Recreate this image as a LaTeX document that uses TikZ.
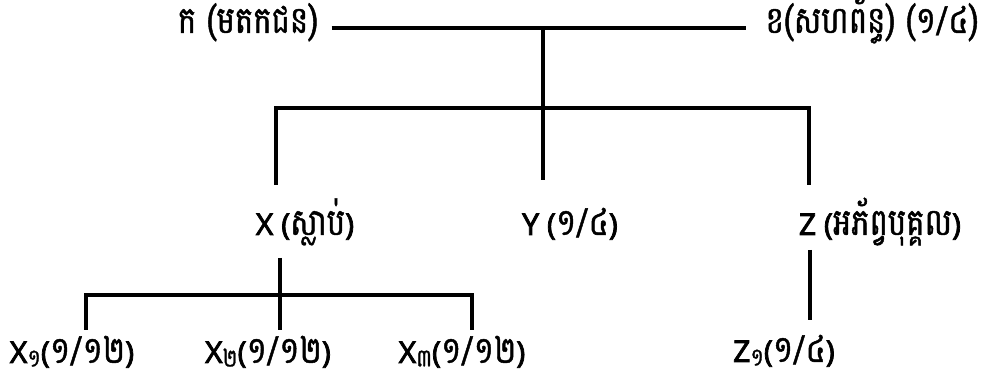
\documentclass[tikz,border=0pt]{standalone}
\usepackage{fontspec}
\setmainfont[FakeBold=2.5]{Noto Sans}
\newfontfamily\kh[Script=Khmer,Scale=1.25,FakeStretch=0.82,FakeBold=1.2]{Battambang}
\newcommand{\khsub}[1]{\raisebox{-0.12em}{\fontsize{10}{10}\selectfont\kh #1}}
\tikzset{
  lbl/.style={anchor=base, inner sep=0pt, font=\fontsize{15}{18}\selectfont},
  link/.style={draw=black, line width=1.7pt},
}
\begin{document}
\begin{tikzpicture}[x=0.5pt,y=-0.5pt]
  \useasboundingbox (0,0) rectangle (985,383);
  % parents
  \node[lbl] (ka) at (248,33) {\kh ក (មតកជន)};
  \node[lbl] (kha) at (872,33) {\kh ខ(សហព័ន្ធ) (១/៤)};
  \coordinate (wed) at (543,28);
  \draw[link] ([xshift=6.5pt]ka.east |- wed) -- ([xshift=-9.5pt]kha.west |- wed);
  % children
  \node[lbl] (x) at (305,235) {X ({\kh ស្លាប់})};
  \node[lbl] (y) at (570,235) {Y ({\kh ១/៤})};
  \node[lbl] (z) at (880,235) {Z ({\kh អភ័ព្វបុគ្គល})};
  \coordinate (bar) at (543,108);
  \coordinate (xl) at (276,185);
  \coordinate (yl) at (543,180);
  \coordinate (zl) at (809,185);
  \draw[link] (wed) -- (bar) -- (yl);
  \draw[link] (xl) -- (xl |- bar) -- (zl |- bar) -- (zl);
  % grandchildren
  \node[lbl] (x1) at (72,363) {X\khsub{១}({\kh ១/១២})};
  \node[lbl] (x2) at (268,363) {X\khsub{២}({\kh ១/១២})};
  \node[lbl] (x3) at (462,363) {X\khsub{៣}({\kh ១/១២})};
  \node[lbl] (z1) at (784,362) {Z\khsub{១}({\kh ១/៤})};
  \coordinate (xdown) at (280,258);
  \coordinate (xbar) at (280,295);
  \coordinate (c1) at (86,330);
  \coordinate (c2) at (280,330);
  \coordinate (c3) at (472,330);
  \draw[link] (xdown) -- (c2);
  \draw[link] (c1) -- (c1 |- xbar) -- (c3 |- xbar) -- (c3);
  \coordinate (zdown) at (810,250);
  \coordinate (zup) at (810,320);
  \draw[link] (zdown) -- (zup);
\end{tikzpicture}
\end{document}
